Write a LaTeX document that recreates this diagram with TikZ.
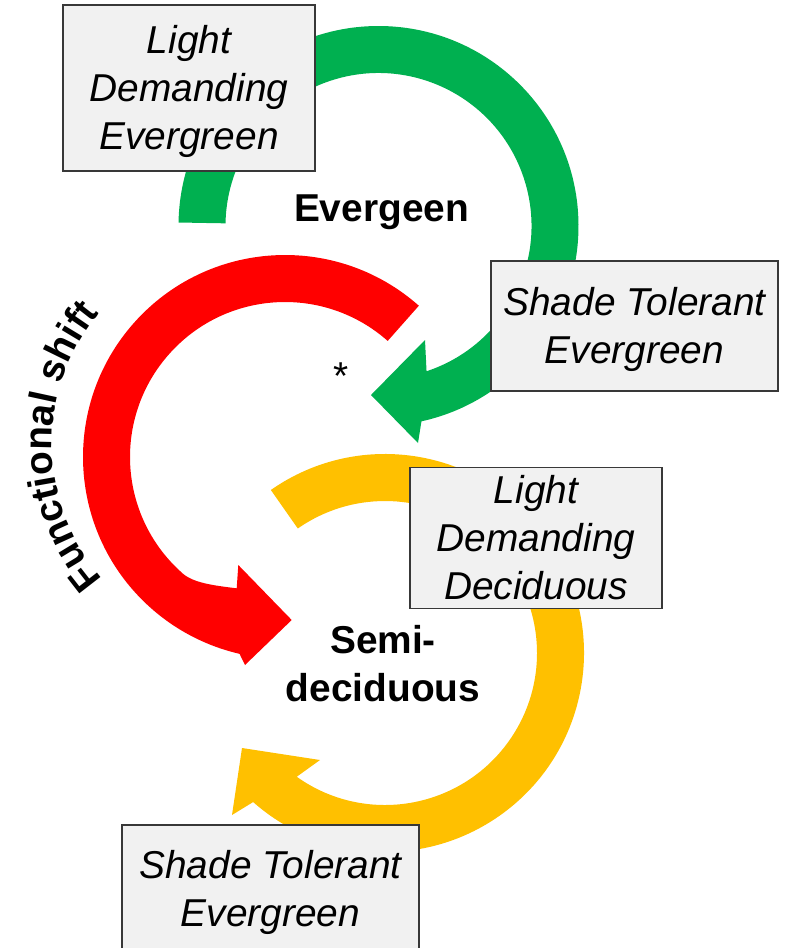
\documentclass[tikz,border=0pt]{standalone}
\usepackage{fontspec}
\setmainfont{Liberation Sans}
\usetikzlibrary{calc,decorations.text}
\definecolor{pgreen}{HTML}{00B050}
\definecolor{pred}{HTML}{FF0000}
\definecolor{pyellow}{HTML}{FFC000}
\definecolor{boxfill}{HTML}{F1F1F1}
\definecolor{boxline}{HTML}{383838}
\newcommand\tstrutx{\rule{0pt}{35.5bp}}
\newcommand\bstrutx{\rule[-8.5bp]{0pt}{8.5bp}}
\begin{document}
\begin{tikzpicture}[x=1bp,y=-1bp,
  labelbox/.style={draw=boxline, line width=1.6bp, fill=boxfill, align=center, inner sep=0pt,
    font=\fontsize{39}{48.5}\selectfont\itshape},
  phase/.style={align=center, inner sep=0pt, font=\fontsize{39}{48}\selectfont\bfseries},
]
\useasboundingbox (0,0) rectangle (792,948);
\clip (0,0) rectangle (792,948);

% centres of the three circular arrows and of the curved label
\coordinate (G) at (378.5,226);
\coordinate (R) at (285,457);
\coordinate (Y) at (385,653);
\coordinate (FS) at (257,444);

% green arrow (Evergreen cycle)
\fill[pgreen] ($(G)+(181:200)$) arc[start angle=181, end angle=437.6, radius=200]
  -- (418,443) -- (371,395) -- (425,340) -- ($(G)+(431.7:153)$)
  arc[start angle=431.7, end angle=181, radius=153] -- cycle;

% red arrow (functional shift)
\fill[pred] ($(R)+(-48.5:202)$) arc[start angle=-48.5, end angle=-257, radius=202]
  -- (245,665) -- (291.7,620) -- (238.3,565) -- (236.7,588.3)
  .. controls (214,585.5) and (192,583) .. ($(R)+(-228:155)$)
  arc[start angle=-228, end angle=-48.5, radius=155] -- cycle;

% yellow arrow (Semi-deciduous cycle)
\fill[pyellow] ($(Y)+(235:199)$) arc[start angle=235, end angle=491.5, radius=199]
  -- (232,815) -- (242,748) -- (320,760) -- ($(Y)+(485.5:152)$)
  arc[start angle=485.5, end angle=235, radius=152] -- cycle;

% boxes
\node[labelbox, minimum width=252bp, minimum height=166bp] (lde) at (189,88)
  {\tstrutx Light\\Demanding\\Evergreen\bstrutx};
\node[labelbox, minimum width=287bp, minimum height=130bp] (ste1) at (634.5,326)
  {\tstrutx Shade Tolerant\\Evergreen\bstrutx};
\node[labelbox, minimum width=252bp, minimum height=140bp] (ldd) at (536,538)
  {\tstrutx Light\\Demanding\\Deciduous\bstrutx};
\node[labelbox, minimum width=297bp, minimum height=128bp] (ste2) at (270.5,889)
  {\tstrutx Shade Tolerant\\Evergreen\bstrutx};

% phase labels
\node[phase, anchor=base] (ever) at (381.5,221) {Evergeen};
\node[phase] (semi) at (383,663.5) {Semi-\\deciduous};
\node[font=\fontsize{39}{44}\selectfont, inner sep=0pt, anchor=base] (star) at (341,389) {*};

% curved label
\path[decorate, decoration={text along path, text align=center,
  text={|\fontsize{39}{47}\selectfont\bfseries|Functional shift}}]
  ($(FS)+(138.6:205)$) arc[start angle=138.6, end angle=220, radius=205];
\end{tikzpicture}
\end{document}
